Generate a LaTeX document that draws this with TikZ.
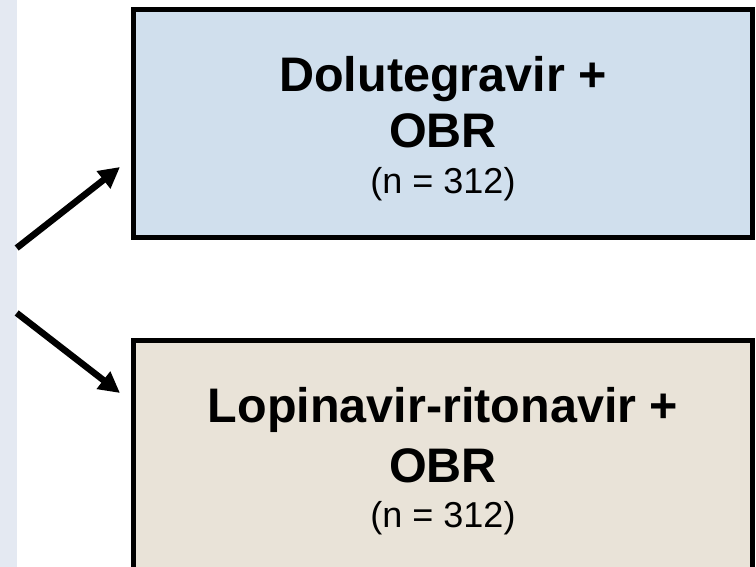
\documentclass[tikz,border=0pt]{standalone}
\usepackage{fontspec}
\setmainfont{Liberation Sans}
\usetikzlibrary{arrows.meta}
\definecolor{stripc}{RGB}{228,233,242}
\definecolor{dtgfill}{RGB}{208,223,237}
\definecolor{lpvfill}{RGB}{233,227,216}
\tikzset{
  armbox/.style={draw=black, line width=5pt, rectangle, inner sep=0pt, outer sep=0pt},
  bigtxt/.style={anchor=base, inner sep=0pt, font=\fontsize{48.5}{56}\selectfont\bfseries},
  ntxt/.style={anchor=base, inner sep=0pt, font=\fontsize{36}{42}\selectfont},
  arr/.style={line width=6.5pt, -{Triangle[length=21pt,width=21pt]}}
}
\begin{document}
\begin{tikzpicture}[x=1pt,y=1pt]
\useasboundingbox (0,0) rectangle (756,567);
\clip (0,0) rectangle (756,567);
\fill[white] (0,0) rectangle (756,567);
\node[fill=stripc, rectangle, inner sep=0pt, minimum width=16.7pt, minimum height=600pt, anchor=south west] (strip) at (0,-20) {};
\node[armbox, fill=dtgfill, minimum width=619pt, minimum height=228pt] (dtg) at (443,443.5) {};
\node[armbox, fill=lpvfill, minimum width=619pt, minimum height=300pt, anchor=north west] (lpv) at (133.5,226.5) {};
\node[bigtxt] (t1) at (443,475) {Dolutegravir +};
\node[bigtxt] (t2) at (443,419) {OBR};
\node[ntxt] (t3) at (443,373) {(n = 312)};
\node[bigtxt] (b1) at (443,144) {Lopinavir-ritonavir +};
\node[bigtxt] (b2) at (443,84) {OBR};
\node[ntxt] (b3) at (443,39) {(n = 312)};
\coordinate (s1) at (16.7,319);
\coordinate (s2) at (16.7,254);
\coordinate (e1) at (120,400);
\coordinate (e2) at (120,174);
\draw[arr] (s1) -- (e1);
\draw[arr] (s2) -- (e2);
\end{tikzpicture}
\end{document}
